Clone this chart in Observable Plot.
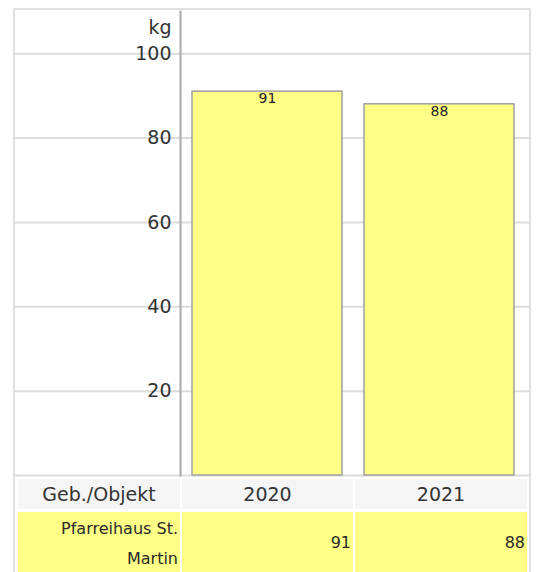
<!DOCTYPE html>
<html>
<head>
<meta charset="utf-8">
<script src="https://cdn.jsdelivr.net/npm/d3@7"></script>
<script src="https://cdn.jsdelivr.net/npm/@observablehq/plot@0.6"></script>
<style>
  html, body { margin: 0; padding: 0; background: #fff; }
  #wrap { position: relative; width: 536px; height: 572px; overflow: hidden; font-family: "DejaVu Sans", sans-serif; color: #333; }
  #wrap svg { position: absolute; left: 0; top: 0; }
  #border { position: absolute; left: 13px; top: 8px; width: 514px; height: 580px; border: 2px solid #e0e0e0; border-bottom: none; }
  #table { position: absolute; left: 18px; top: 479px; display: grid; grid-template-columns: 162px 171px 172px; column-gap: 2px; row-gap: 3px; }
  .hd { background: #f5f5f5; height: 30px; line-height: 30px; text-align: center; font-size: 19px; color: #333; }
  .cell { background: #ffff88; height: 62px; font-size: 16px; line-height: 30px; text-align: right; padding-right: 2px; box-sizing: border-box; color: #2a2a2a; }
  .lbl { padding-top: 2px; }
  .val { display: flex; align-items: center; justify-content: flex-end; }
</style>
</head>
<body>
<div id="wrap">
  <div id="border"></div>
  <div id="chart"></div>
  <div id="table"></div>
</div>
<script>
const years = ["2020", "2021"];
const values = [91, 88];
const building = "Pfarreihaus St. Martin";
const headerLabel = "Geb./Objekt";
const unit = "kg";
const yTicks = [20, 40, 60, 80, 100];
const gridTicks = [0, 20, 40, 60, 80, 100];

const data = years.map((year, i) => ({year, value: values[i]}));

const chart = Plot.plot({
  width: 536,
  height: 477,
  marginLeft: 180,
  marginRight: 6,
  marginTop: 11,
  marginBottom: 2,
  style: {fontFamily: "DejaVu Sans", fontSize: "19px", color: "#333", background: "transparent"},
  x: {domain: years, range: [180, 526], paddingInner: 0.13, paddingOuter: 0.0667, axis: null},
  y: {domain: [0, 110], axis: null},
  marks: [
    Plot.ruleY(gridTicks, {stroke: "#dcdcdc", strokeWidth: 2}),
    Plot.axisY(gridTicks, {anchor: "left", tickSize: 166, tickFormat: () => "", stroke: "#dcdcdc", strokeWidth: 2, strokeOpacity: 1, label: null}),
    Plot.axisY(yTicks, {anchor: "left", tickSize: 0, tickPadding: 9, label: null, fill: "#333"}),
    Plot.barY(data, {x: "year", y: "value", fill: "#ffff88", stroke: "#a0a0a0", strokeWidth: 1.5, inset: 0}),
    Plot.text(data, {x: "year", y: "value", text: d => String(d.value), dy: 7, fontSize: 14, fill: "#222"}),
    Plot.frame({anchor: "left", stroke: "#aaa", strokeWidth: 2}),
    Plot.text([unit], {frameAnchor: "top-left", textAnchor: "end", dx: -9, dy: 9, fill: "#333"})
  ]
});
document.getElementById("chart").appendChild(chart);

const table = document.getElementById("table");
const hd = [headerLabel, ...years];
hd.forEach(t => {
  const d = document.createElement("div");
  d.className = "hd";
  d.textContent = t;
  table.appendChild(d);
});
const lbl = document.createElement("div");
lbl.className = "cell lbl";
lbl.textContent = building;
table.appendChild(lbl);
values.forEach(v => {
  const d = document.createElement("div");
  d.className = "cell val";
  d.textContent = String(v);
  table.appendChild(d);
});
</script>
</body>
</html>
